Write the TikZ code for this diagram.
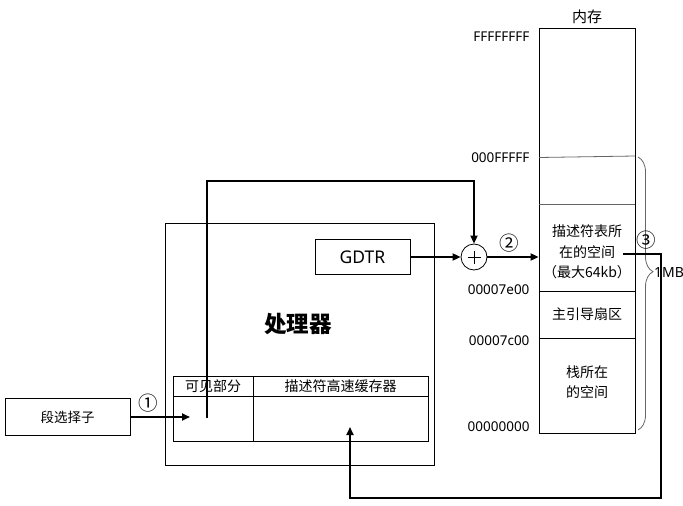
\documentclass[tikz,border=0pt]{standalone}
\usepackage{fontspec}
\setmainfont{Noto Sans CJK SC}
\newfontfamily\latin{Noto Sans}
\usetikzlibrary{arrows.meta,decorations.pathreplacing}

\begin{document}
\begin{tikzpicture}[x=1pt,y=-1pt,
  box/.style={draw, line width=0.8pt, inner sep=0pt},
  flow/.style={line width=1.8pt, -{Triangle[length=8pt,width=7pt]}},
  cjk/.style={font=\fontsize{14}{20.5}\selectfont},
  tab/.style={font=\fontsize{14}{16}\selectfont},
  addr/.style={anchor=east, font=\latin\fontsize{13.5}{16}\selectfont},
  num/.style={font=\fontsize{19.5}{20}\selectfont, inner sep=0pt}]
\useasboundingbox (0,0) rectangle (683,506);

% memory column
\node[box, minimum width=96pt, minimum height=405pt] (mem) at (587,230.5) {};
\node[font=\fontsize{15}{17}\selectfont] (memlabel) at (587,17) {内存};
\draw[gray!80!black, line width=0.8pt] (539,157.5) -- (635,156);
\draw[gray!80!black, line width=0.8pt] (539,204.5) -- (635,204.5);
\draw[line width=0.8pt] (539,291) -- (635,291);
\draw[line width=0.8pt] (539,338) -- (635,338);
\node[cjk, align=center] (gdt) at (587,252) {描述符表所\\在的空间\\（最大64kb）};
\node[cjk] (mbr) at (587,314) {主引导扇区};
\node[cjk, align=center] (stack) at (587,382) {栈所在\\的空间};

% addresses
\node[addr] (a1) at (533,37) {FFFFFFFF};
\node[addr] (a2) at (533,158) {000FFFFF};
\node[addr] (a3) at (533,290) {00007e00};
\node[addr] (a4) at (533,341) {00007c00};
\node[addr] (a5) at (533,427) {00000000};

% 1MB brace
\draw[gray!80!black, line width=0.8pt, decorate,
  decoration={brace, amplitude=15pt, aspect=0.42}] (638,157) -- (638,430);
\node[font=\latin\fontsize{14}{16}\selectfont, anchor=west, inner sep=0pt] (mb) at (654,272) {1MB};

% processor
\node[box, minimum width=269pt, minimum height=242pt] (cpu) at (299.5,344) {};
\node[font=\fontsize{22.5}{26}\selectfont\bfseries] (cpulabel) at (298,324) {处理器};
\node[box, minimum width=95pt, minimum height=35pt,
  font=\latin\fontsize{17.5}{20}\selectfont] (gdtr) at (362.5,257) {GDTR};

% segment register table
\node[box, minimum width=80pt, minimum height=20pt, tab] (vishead) at (213,386) {可见部分};
\node[box, minimum width=175pt, minimum height=20pt, tab] (cachehead) at (340.5,386) {描述符高速缓存器};
\node[box, minimum width=80pt, minimum height=45pt] (viscell) at (213,418.5) {};
\node[box, minimum width=175pt, minimum height=45pt] (cachecell) at (340.5,418.5) {};

% selector
\node[box, minimum width=125pt, minimum height=37pt, font=\fontsize{13.5}{16}\selectfont] (sel) at (67.5,417) {段选择子};

% adder
\node[draw, circle, minimum size=26pt, inner sep=0pt, line width=0.8pt] (plus) at (474,257) {};
\draw[line width=0.6pt] ([xshift=-6.5pt]plus.center) -- ([xshift=6.5pt]plus.center);
\draw[line width=0.6pt] ([yshift=-6.5pt]plus.center) -- ([yshift=6.5pt]plus.center);

% connector points
\coordinate (visin) at (190,417);
\coordinate (visout) at (207,418);
\coordinate (top) at (474,181);
\coordinate (dstart) at (623,254);
\coordinate (dcorner) at (661,498);
\coordinate (cachein) at (350,427);

% flows
\draw[flow] (sel.east) -- (visin);
\node[num] (n1) at (148,403) {①};
\draw[flow] (visout) |- (top) -- (plus.north);
\draw[flow] (gdtr.east) -- (plus.west);
\draw[flow] (plus.east) -- (plus.east -| mem.west);
\node[num] (n2) at (509,243) {②};
\draw[flow] (dstart) -| (dcorner) -| (cachein);
\node[num] (n3) at (646,240) {③};
\end{tikzpicture}
\end{document}
